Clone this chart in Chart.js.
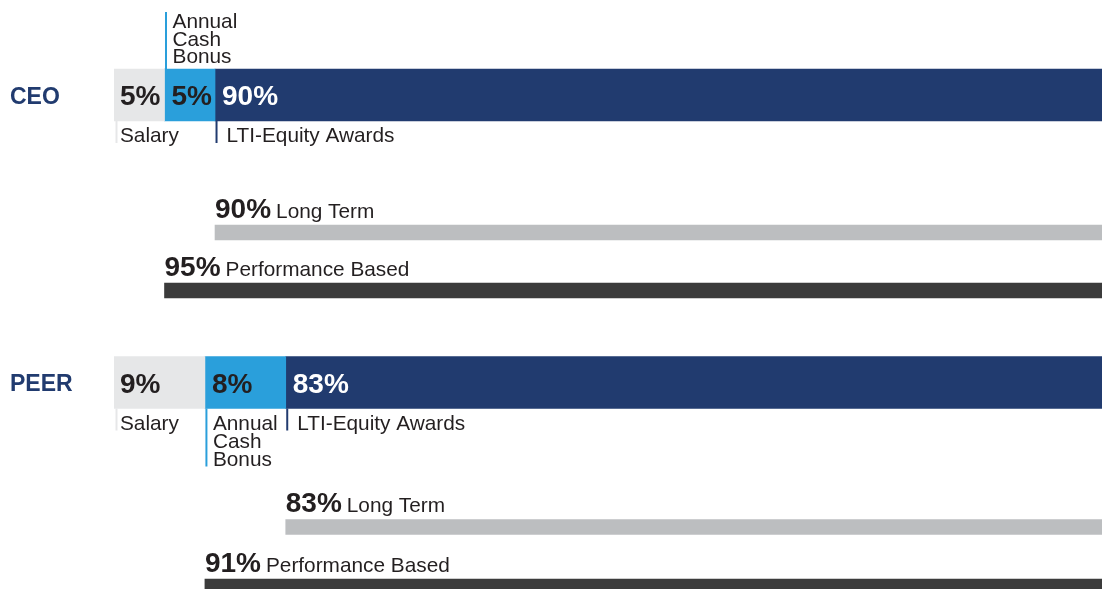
<!DOCTYPE html>
<html>
<head>
<meta charset="utf-8">
<script src="https://cdn.jsdelivr.net/npm/chart.js@4"></script>
<style>
  html, body { margin: 0; padding: 0; background: #ffffff; }
  #wrap { position: relative; width: 1102px; height: 589px; }
</style>
</head>
<body>
<div id="wrap"><canvas id="chart"></canvas></div>
<script>
// Dados (percentuais)
const groups = ['CEO', 'PEER'];
const salary = [5, 9];
const cashBonus = [5, 8];
const ltiEquity = [90, 83];
const longTerm = [90, 83];
const performanceBased = [95, 91];
const segmentNames = ['Salary', 'Annual Cash Bonus', 'LTI-Equity Awards'];
const summaryNames = ['Long Term', 'Performance Based'];

// Layout (posições das linhas e lado das legendas)
const rowCenter = { main: [95, 382.5], longTerm: [232.5, 527], perf: [290.5, 586.5] };
const cashSide = ['above', 'below'];
const xMax = 97.8; // barra de 100% ultrapassa a borda direita

const colors = {
    salary: '#e6e7e8',
    cash: '#2a9fdb',
    lti: '#213b6f',
    longTerm: '#bcbec0',
    perf: '#3b3b3b',
    text: '#231f20',
    group: '#213b6f'
};
const FONT = '"Liberation Sans", Arial, sans-serif';

// Monta barras flutuantes a partir dos valores
function floating(rows, starts, ends) {
    return rows.map((r, i) => ({ y: r, x: [starts[i], ends[i]] }));
}
const cashEnd = salary.map((s, i) => s + cashBonus[i]);

const datasets = [
    { label: segmentNames[0], data: floating(rowCenter.main, salary.map(() => 0), salary), backgroundColor: colors.salary, barThickness: 52 },
    { label: segmentNames[1], data: floating(rowCenter.main, salary, cashEnd), backgroundColor: colors.cash, barThickness: 52 },
    { label: segmentNames[2], data: floating(rowCenter.main, cashEnd, cashEnd.map((c, i) => c + ltiEquity[i])), backgroundColor: colors.lti, barThickness: 52 },
    { label: summaryNames[0], data: floating(rowCenter.longTerm, longTerm.map(v => 100 - v), longTerm.map(() => 100)), backgroundColor: colors.longTerm, barThickness: 15 },
    { label: summaryNames[1], data: floating(rowCenter.perf, performanceBased.map(v => 100 - v), performanceBased.map(() => 100)), backgroundColor: colors.perf, barThickness: 15 }
];

function barBox(chart, ds, i) {
    const p = chart.getDatasetMeta(ds).data[i].getProps(['x', 'y', 'base', 'height'], true);
    return { left: Math.min(p.x, p.base), top: p.y - p.height / 2, bottom: p.y + p.height / 2, cy: p.y };
}

// Plugin para desenhar os textos e as legendas com traço vertical
const labelsPlugin = {
    id: 'payLabels',
    afterDatasetsDraw(chart) {
        const ctx = chart.ctx;
        ctx.save();
        ctx.textBaseline = 'alphabetic';
        ctx.textAlign = 'left';

        groups.forEach((g, i) => {
            const sal = barBox(chart, 0, i);
            const cash = barBox(chart, 1, i);
            const lti = barBox(chart, 2, i);

            // nome do grupo
            ctx.font = 'bold 23px ' + FONT;
            ctx.fillStyle = colors.group;
            ctx.fillText(g, 10, sal.cy + 8.5);

            // percentuais dentro da barra
            ctx.font = 'bold 28px ' + FONT;
            ctx.fillStyle = colors.text;
            ctx.fillText(salary[i] + '%', sal.left + 6, sal.cy + 10);
            ctx.fillText(cashBonus[i] + '%', cash.left + 7, cash.cy + 10);
            ctx.fillStyle = '#ffffff';
            ctx.fillText(ltiEquity[i] + '%', lti.left + 7, lti.cy + 10);

            // legendas com traço
            const callouts = [
                { box: sal, color: colors.salary, lines: ['Salary'], side: 'below', textDx: 6, lineDx: 2.5 },
                { box: cash, color: colors.cash, lines: ['Annual', 'Cash', 'Bonus'], side: cashSide[i], textDx: 8, lineDx: 1.5 },
                { box: lti, color: colors.lti, lines: ['LTI-Equity Awards'], side: 'below', textDx: 11.5, lineDx: 1.5 }
            ];
            callouts.forEach(c => {
                const lh = 18;
                const n = c.lines.length;
                let y0, y1, firstBase;
                if (c.side === 'below') {
                    y0 = c.box.bottom;
                    y1 = c.box.bottom + 22 + (n - 1) * lh;
                    firstBase = c.box.bottom + 21;
                } else {
                    y0 = c.box.top - 57;
                    y1 = c.box.top;
                    firstBase = c.box.top - 6 - (n - 1) * 17.5;
                }
                ctx.strokeStyle = c.color;
                ctx.lineWidth = 2;
                ctx.beginPath();
                ctx.moveTo(c.box.left + c.lineDx, y0);
                ctx.lineTo(c.box.left + c.lineDx, y1);
                ctx.stroke();

                ctx.font = '20.8px ' + FONT;
                ctx.fillStyle = colors.text;
                const step = c.side === 'below' ? lh : 17.5;
                c.lines.forEach((t, k) => {
                    ctx.fillText(t, c.box.left + c.textDx, firstBase + k * step);
                });
            });

            // rótulos das barras finas
            [[3, longTerm[i], summaryNames[0]], [4, performanceBased[i], summaryNames[1]]].forEach(([ds, v, name]) => {
                const b = barBox(chart, ds, i);
                const base = b.top - 7.5;
                ctx.font = 'bold 28px ' + FONT;
                ctx.fillStyle = colors.text;
                const pct = v + '%';
                ctx.fillText(pct, b.left, base);
                const w = ctx.measureText(pct).width;
                ctx.font = '20.8px ' + FONT;
                ctx.fillText(name, b.left + w + 5, base);
            });
        });
        ctx.restore();
    }
};

new Chart(document.getElementById('chart'), {
    type: 'bar',
    data: { datasets: datasets },
    options: {
        indexAxis: 'y',
        responsive: true,
        maintainAspectRatio: false,
        animation: false,
        grouped: false,
        borderWidth: 0,
        layout: { padding: { left: 114, right: 0, top: 0, bottom: 0 } },
        plugins: {
            legend: { display: false },
            tooltip: { enabled: false }
        },
        scales: {
            x: { type: 'linear', min: 0, max: xMax, offset: false, display: false },
            y: { type: 'linear', min: 0, max: 589, reverse: true, offset: false, display: false }
        }
    },
    plugins: [labelsPlugin]
});
</script>
</body>
</html>
